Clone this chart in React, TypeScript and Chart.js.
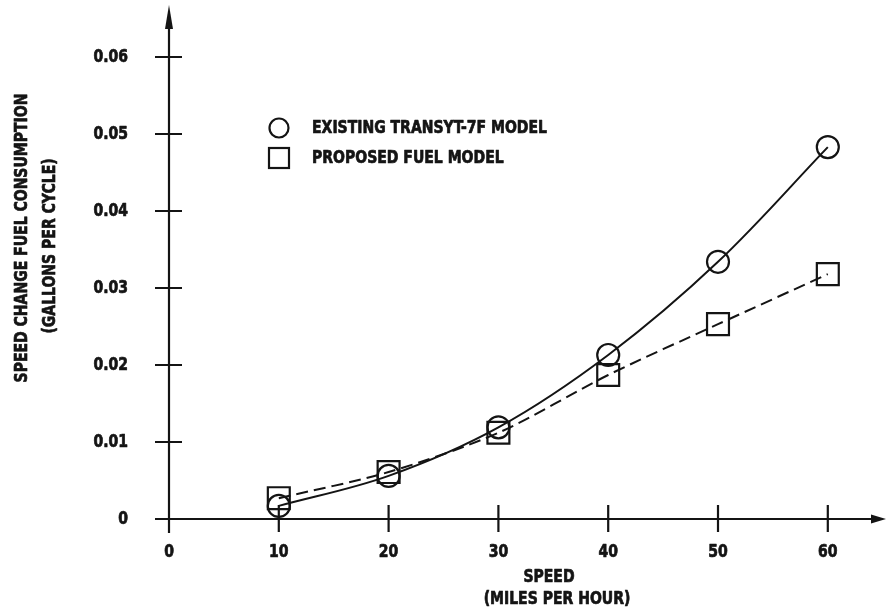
import React, { useEffect, useRef } from "react";
import { Chart, registerables } from "chart.js";

Chart.register(...registerables);

const speeds = [10, 20, 30, 40, 50, 60];
const existingModel = [0.0017, 0.0056, 0.0119, 0.0213, 0.0334, 0.0483];
const proposedModel = [0.0027, 0.0061, 0.0112, 0.0187, 0.0253, 0.0318];

const xTicks = [0, 10, 20, 30, 40, 50, 60];
const xTickLabels = ["0", "10", "20", "30", "40", "50", "60"];
const yTicks = [0, 0.01, 0.02, 0.03, 0.04, 0.05, 0.06];
const yTickLabels = ["0", "0.01", "0.02", "0.03", "0.04", "0.05", "0.06"];

const legendLabels = ["EXISTING TRANSYT-7F MODEL", "PROPOSED FUEL MODEL"];
const xTitle = ["SPEED", "(MILES PER HOUR)"];
const yTitle = ["SPEED CHANGE FUEL CONSUMPTION", "(GALLONS PER CYCLE)"];

const INK = "#141414";
const FONT = 'bold 18px "DejaVu Sans Condensed", "DejaVu Sans", sans-serif';

const axesPlugin = {
  id: "plotterAxes",
  afterDatasetsDraw(chart: any) {
    const ctx = chart.ctx as CanvasRenderingContext2D;
    const xs = chart.scales.x;
    const ys = chart.scales.y;
    const x0 = xs.getPixelForValue(0);
    const y0 = ys.getPixelForValue(0);
    const xEnd = chart.chartArea.right;
    const yTop = chart.chartArea.top;

    ctx.save();
    ctx.strokeStyle = INK;
    ctx.fillStyle = INK;
    ctx.lineWidth = 2.2;
    ctx.lineCap = "butt";

    // axes
    ctx.beginPath();
    ctx.moveTo(x0 - 14, y0);
    ctx.lineTo(xEnd - 10, y0);
    ctx.moveTo(x0, y0 + 14);
    ctx.lineTo(x0, yTop + 18);
    ctx.stroke();

    // arrows
    ctx.beginPath();
    ctx.moveTo(xEnd, y0);
    ctx.lineTo(xEnd - 15, y0 - 4.5);
    ctx.lineTo(xEnd - 15, y0 + 4.5);
    ctx.closePath();
    ctx.fill();
    ctx.beginPath();
    ctx.moveTo(x0, yTop);
    ctx.lineTo(x0 - 4, yTop + 24);
    ctx.lineTo(x0 + 4, yTop + 24);
    ctx.closePath();
    ctx.fill();

    // ticks
    ctx.beginPath();
    yTicks.forEach((v) => {
      if (v === 0) return;
      const py = ys.getPixelForValue(v);
      ctx.moveTo(x0 - 14, py);
      ctx.lineTo(x0 + 13, py);
    });
    xTicks.forEach((v) => {
      if (v === 0) return;
      const px = xs.getPixelForValue(v);
      ctx.moveTo(px, y0 - 14);
      ctx.lineTo(px, y0 + 13);
    });
    ctx.stroke();

    // text
    ctx.font = FONT;
    const hs = 235 / ctx.measureText(legendLabels[0]).width;
    const text = (s: string, x: number, y: number, align: CanvasTextAlign, rot = 0) => {
      ctx.save();
      ctx.translate(x, y);
      if (rot) ctx.rotate(rot);
      ctx.scale(hs, 1);
      ctx.textAlign = align;
      ctx.textBaseline = "middle";
      ctx.lineWidth = 0.7;
      ctx.lineJoin = "round";
      ctx.fillText(s, 0, 0);
      ctx.strokeText(s, 0, 0);
      ctx.restore();
    };

    yTicks.forEach((v, i) => {
      text(yTickLabels[i], 128, ys.getPixelForValue(v), "right");
    });
    xTicks.forEach((v, i) => {
      text(xTickLabels[i], xs.getPixelForValue(v), y0 + 33, "center");
    });

    text(xTitle[0], 549, 577, "center");
    text(xTitle[1], 557, 599, "center");
    text(yTitle[0], 22, 238, "center", -Math.PI / 2);
    text(yTitle[1], 50, 246, "center", -Math.PI / 2);

    // legend
    ctx.lineWidth = 2.2;
    ctx.beginPath();
    ctx.arc(279, 128, 9.5, 0, Math.PI * 2);
    ctx.stroke();
    ctx.strokeRect(269, 148, 20, 20);
    text(legendLabels[0], 312, 128, "left");
    text(legendLabels[1], 312, 158, "left");

    ctx.restore();
  },
};

export default function App() {
  const ref = useRef<HTMLCanvasElement | null>(null);

  useEffect(() => {
    if (!ref.current) return;
    const chart = new Chart(ref.current, {
      type: "line",
      data: {
        datasets: [
          {
            label: legendLabels[0],
            data: speeds.map((s, i) => ({ x: s, y: existingModel[i] })),
            borderColor: INK,
            borderWidth: 2,
            tension: 0.35,
            pointStyle: "circle",
            pointRadius: 11,
            pointBorderWidth: 2.2,
            pointBorderColor: INK,
            pointBackgroundColor: "rgba(0,0,0,0)",
            clip: false as any,
          },
          {
            label: legendLabels[1],
            data: speeds.map((s, i) => ({ x: s, y: proposedModel[i] })),
            borderColor: INK,
            borderWidth: 2,
            borderDash: [12, 6],
            tension: 0.3,
            pointStyle: "rect",
            pointRadius: 15.5,
            pointBorderWidth: 2.2,
            pointBorderColor: INK,
            pointBackgroundColor: "rgba(0,0,0,0)",
            clip: false as any,
          },
        ],
      },
      options: {
        responsive: false,
        animation: false,
        events: [],
        layout: { autoPadding: false, padding: { left: 169, right: 1, top: 5, bottom: 94 } },
        scales: {
          x: { type: "linear", display: false, min: 0, max: 65.3 },
          y: { type: "linear", display: false, min: 0, max: 0.06675 },
        },
        plugins: {
          legend: { display: false },
          tooltip: { enabled: false },
        },
      },
      plugins: [axesPlugin],
    });
    return () => chart.destroy();
  }, []);

  return (
    <div style={{ position: "absolute", left: 0, top: 0, width: 887, height: 613, background: "#fff" }}>
      <canvas ref={ref} width={887} height={613} />
    </div>
  );
}
